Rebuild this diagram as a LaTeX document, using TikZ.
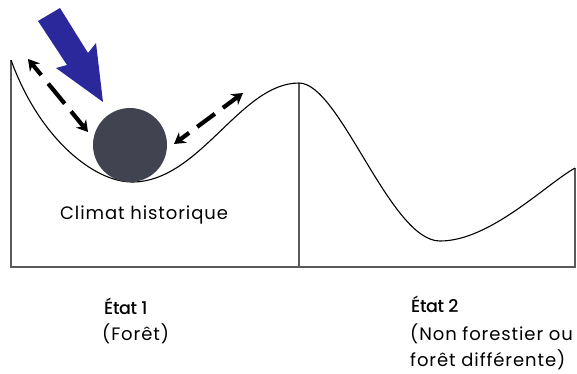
\documentclass[tikz,border=0pt]{standalone}
\usepackage{fontspec}
\setmainfont{Poppins}[LetterSpace=5]
\newfontfamily\semifont{Poppins}[UprightFont=* Medium, LetterSpace=-2]
\usetikzlibrary{arrows.meta}
\definecolor{ballgray}{RGB}{65,67,80}
\definecolor{sunblue}{RGB}{42,40,155}
\definecolor{framegray}{RGB}{90,90,90}
\tikzset{
  framel/.style={draw=framegray, line width=1.4pt},
  landscape/.style={draw=black, line width=1.1pt},
  dashedarrow/.style={line width=4.2pt, {Stealth[length=11pt,width=13pt]}-{Stealth[length=11pt,width=13pt]}},
  lbl/.style={anchor=base west, inner sep=0pt, font=\fontsize{18}{22}\selectfont},
  head/.style={anchor=base west, inner sep=0pt, font=\semifont\fontsize{17.5}{22}\selectfont},
}
\begin{document}
\begin{tikzpicture}[x=1pt,y=-1pt]
\useasboundingbox (0,0) rectangle (577,373);
% frame
\coordinate (tl) at (11,60);
\coordinate (bl) at (11,267);
\coordinate (br) at (575,267);
\coordinate (tr) at (575,168);
\coordinate (pk) at (299,83);
\coordinate (pkb) at (299,267);
\draw[framel] (tl) -- (bl) -- (br) -- (tr);
\draw[framel] (pk) -- (pkb);
% landscape curve
\draw[landscape] (tl) .. controls (40,140) and (95,182) .. (132,182)
  .. controls (200,182) and (240,83) .. (pk)
  .. controls (340,83) and (390,241) .. (440,241)
  .. controls (490,241) and (545,185) .. (tr);
% ball
\node[circle, fill=ballgray, minimum size=74pt, inner sep=0pt] (ball) at (130,145) {};
% blue arrow
\fill[sunblue] (38,21) -- (60,8) -- (88,53) -- (96,43) -- (103,102) -- (56,68) -- (67,65) -- cycle;
% dashed double arrows
\coordinate (la) at (28,59);
\coordinate (lb) at (88,132);
\coordinate (ra) at (174,144);
\coordinate (rb) at (243,93);
\draw[dashedarrow, dash pattern=on 14pt off 11pt on 26pt off 10pt on 30pt] (la) -- (lb);
\draw[dashedarrow, dash pattern=on 12pt off 10pt on 22pt off 10pt on 30pt] (ra) -- (rb);
% labels
\node[lbl] (clim) at (60,219) {Climat historique};
\node[head] (e1) at (104,314) {État 1};
\node[lbl] (f1) at (102,340) {(Forêt)};
\node[head] (e2) at (411,312) {État 2};
\node[lbl] (f2a) at (410,340) {(Non forestier ou};
\node[lbl] (f2b) at (410,366) {forêt différente)};
\end{tikzpicture}
\end{document}
